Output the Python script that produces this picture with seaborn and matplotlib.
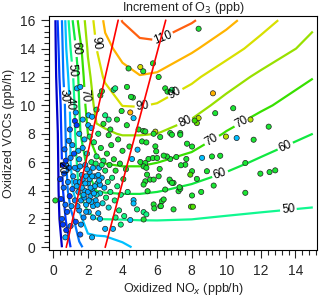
import numpy as np
import matplotlib
matplotlib.use("Agg")
import matplotlib.pyplot as plt
import seaborn as sns
import pandas as pd
from matplotlib.colors import LinearSegmentedColormap, Normalize
from matplotlib.ticker import MultipleLocator

# grid of O3 increment (ppb)
nox_grid = [0, 0.25, 0.5, 0.75, 1.0, 1.5, 2.0, 2.5, 3.0, 4.0, 5.0, 6.0, 8.0, 10.0, 12.0, 15.0]
voc_grid = [0, 2, 4, 6, 8, 10, 12, 14, 16]
o3_rows = [
    [0, 5, 10, 15, 20, 28.5, 32.5, 33, 33.5, 37.8, 42, 43, 44, 44, 44, 43.5],
    [0, 6.9, 14.2, 21, 26.7, 35.8, 48, 50, 50.2, 50.3, 50.4, 50.4, 50.1, 49.3, 48.8, 48.3],
    [0, 7.8, 17.8, 26.7, 36, 51, 56, 60.2, 60.8, 61.3, 61.3, 60.5, 58, 55.7, 54, 52.5],
    [0, 8.3, 20, 30, 40, 54, 62, 67.5, 70.5, 71.5, 71.5, 70.2, 66.8, 62.3, 58.9, 56.3],
    [0, 9.3, 22, 31.5, 40.5, 58.3, 70, 78.3, 79, 80.5, 80.5, 80, 75.8, 69.3, 65, 60],
    [0, 11.7, 23.5, 33, 41.5, 60, 74, 83, 84.5, 90.2, 90.5, 89.3, 83.8, 76.9, 71.4, 65.2],
    [0, 15, 27, 36, 44.8, 62, 77.5, 85.7, 91.5, 97, 99.5, 98.5, 92, 84.4, 78, 70.3],
    [0, 17.7, 28, 40, 50, 66, 81, 90, 97.5, 103, 107, 107.5, 101.5, 94, 86.3, 77],
    [0, 20, 30, 43, 56, 73, 84, 93.5, 102, 110.5, 115, 116, 111, 103, 94, 82],
]
levels = [10, 20, 30, 40, 50, 60, 70, 80, 90, 100, 110]
level_colors = ["#0000c8", "#0038ff", "#0078ff", "#00c0ff", "#10f890", "#10e840",
                "#38e000", "#98e000", "#d8e000", "#ffb400", "#ff6010"]

# ridge lines
ridge1_x = [0.75, 3.75]
ridge1_y = [0, 16]
ridge2_x = [3.0, 6.5]
ridge2_y = [0, 16]

# observed points: oxidized NOx, oxidized VOCs, O3 increment (colour)
pts_x = [8.4, 5.03, 5.2, 5.76, 6.09, 6.47, 6.6, 6.86, 9.23, 9.36, 8.4, 8.3, 4.6, 4.45, 4.64,
         4.93, 5.2, 5.9, 6.76, 7.34, 10.4, 11.4, 12.45, 8.17, 6.18, 6.86, 7.34, 7.73, 8.02, 9.98,
         10.6, 11.58, 8.6, 9.17, 9.65, 11.1, 11.97, 12.5, 12.83, 11.1, 9.27, 8.55, 8.02, 7.96, 8.07,
         6.95, 6.18, 6.28, 8.88, 8.02, 7.92, 7.63, 7.38, 7.11, 6.76, 6.57, 7.69, 8.3, 6.76, 6.95,
         7.24, 7.34, 6.47, 5.32, 5.8, 4.87, 4.55, 5.13, 5.38, 5.9, 5.95, 5.5, 5.76, 6.0, 6.38,
         6.15, 5.03, 5.32, 5.22, 5.38, 5.42, 5.32, 5.22, 5.45, 5.6, 5.8, 4.64, 4.64, 4.84, 5.22,
         5.38, 5.8, 5.84, 6.22, 6.72, 6.86, 6.09, 6.38, 7.3, 5.22, 4.45, 0.12,
         4.35, 3.49, 3.58, 4.26, 4.49, 2.72, 2.81, 1.37, 1.56, 2.04, 2.24, 3.0, 3.2, 3.68,
         1.25, 1.35, 0.96, 2.02, 2.2,
         0.45, 0.5, 0.55, 0.6, 0.62, 0.7, 0.72, 0.8, 0.85, 0.9, 0.95, 1.0, 1.05, 1.1, 1.15,
         1.2, 1.25, 1.3, 1.3, 0.65, 0.9, 1.1, 0.4, 0.55, 0.75, 1.0,
         1.4, 1.45, 1.5, 1.5, 1.55, 1.6, 1.65, 1.7, 1.75, 1.8, 1.85, 1.9, 1.95, 2.0, 2.05,
         2.1, 2.15, 2.2, 2.25, 2.3, 2.35, 2.4, 2.45, 2.5, 2.55, 2.6, 2.65, 2.7, 2.75, 2.8,
         2.85, 2.9, 2.95, 3.0, 1.35, 1.45, 1.6, 1.7, 1.8, 1.9, 2.0, 2.1, 2.2, 2.3, 2.4,
         2.5, 2.6, 2.7, 2.8, 1.55, 1.65, 1.75, 1.85, 1.95, 2.05, 2.15, 2.25, 2.35, 2.45, 2.55,
         2.65, 1.25, 1.4, 1.9, 2.3, 2.7, 1.5, 1.8, 2.1, 2.6, 1.3, 1.7, 2.5, 2.9, 3.3,
         3.05, 3.1, 3.15, 3.2, 3.25, 3.3, 3.35, 3.4, 3.5, 3.55, 3.6, 3.7, 3.75, 3.8, 3.85,
         3.9, 4.0, 4.05, 4.1, 4.2, 4.3, 4.4, 3.45, 3.0, 3.9, 3.6, 3.2, 4.25, 3.95,
         0.7, 1.56, 2.24]
pts_y = [15.4, 12.7, 12.4, 12.96, 12.0, 11.2, 10.97, 11.1, 10.85, 9.45, 9.1, 8.75, 10.55, 9.5, 9.1,
         8.3, 8.2, 8.15, 8.05, 8.05, 9.8, 9.0, 8.5, 8.93, 7.77, 7.93, 7.93, 7.3, 7.1, 7.8,
         7.7, 7.58, 6.3, 6.4, 6.45, 5.94, 5.19, 5.3, 5.42, 3.84, 4.35, 3.9, 3.65, 2.86, 2.86,
         2.67, 2.9, 3.25, 5.36, 5.36, 5.12, 5.82, 5.78, 6.36, 6.22, 6.4, 6.22, 4.82, 4.65, 4.54,
         3.95, 4.12, 4.07, 8.16, 8.0, 6.88, 6.22, 7.46, 7.39, 7.11, 6.76, 6.22, 6.29, 6.29, 6.46,
         5.52, 6.01, 5.94, 5.7, 5.6, 5.12, 4.65, 4.42, 3.95, 4.77, 4.77, 3.32, 3.09, 2.67, 2.48,
         2.32, 3.02, 2.74, 2.9, 4.77, 4.54, 5.0, 3.37, 4.23, 1.96, 1.92, 3.3,
         12.6, 11.1, 11.2, 11.3, 10.6, 10.7, 11.0, 11.2, 11.3, 9.3, 9.2, 9.3, 9.0, 9.0,
         8.9, 8.6, 8.3, 8.6, 8.4,
         3.4, 2.0, 1.6, 4.2, 5.2, 3.0, 6.1, 2.5, 4.6, 5.6, 3.6, 6.3, 2.9, 4.1, 5.0,
         6.6, 3.3, 1.8, 4.6, 6.9, 7.5, 7.2, 4.8, 5.8, 1.2, 1.5,
         5.5, 3.9, 2.6, 6.2, 4.6, 3.3, 5.1, 7.0, 2.1, 4.0, 5.8, 3.0, 6.6, 4.5, 2.5,
         5.3, 3.6, 6.0, 4.1, 2.9, 7.4, 5.0, 3.3, 6.4, 4.5, 2.4, 5.6, 3.8, 7.0, 4.9,
         3.1, 6.1, 4.2, 5.4, 4.3, 6.8, 1.6, 4.8, 3.5, 5.0, 3.9, 4.8, 3.2, 5.6, 4.3,
         3.7, 5.1, 4.4, 5.8, 5.7, 4.2, 3.7, 4.5, 5.5, 3.3, 4.2, 5.0, 3.8, 5.9, 3.0,
         4.7, 5.6, 2.9, 2.5, 2.1, 2.0, 8.0, 7.6, 7.8, 8.0, 9.5, 9.0, 9.7, 8.7, 8.3,
         3.5, 6.6, 4.6, 2.8, 5.8, 3.9, 7.2, 4.9, 6.2, 3.3, 5.4, 4.3, 7.6, 2.6, 5.9,
         3.7, 6.8, 4.8, 2.2, 5.5, 3.9, 7.1, 1.3, 1.3, 1.6, 2.1, 7.9, 8.6, 9.6,
         0.7, 0.9, 0.7]
pts_c = [62, 90, 62, 62, 62, 62, 62, 55, 100, 62, 85, 75, 62, 100, 40,
         62, 62, 85, 62, 62, 62, 85, 62, 70, 62, 62, 62, 62, 62, 85,
         40, 62, 40, 62, 62, 62, 62, 62, 62, 62, 62, 62, 62, 72, 72,
         62, 62, 62, 62, 62, 72, 62, 62, 62, 62, 62, 62, 62, 62, 62,
         62, 62, 62, 62, 62, 40, 40, 62, 62, 62, 62, 62, 62, 62, 62,
         62, 62, 62, 62, 62, 62, 62, 62, 62, 62, 62, 40, 40, 52, 52,
         52, 62, 62, 62, 62, 62, 62, 62, 62, 62, 40, 62,
         62, 52, 52, 62, 62, 62, 62, 37, 37, 37, 37, 52, 52, 62,
         20, 20, 28, 37, 37,
         20, 24, 20, 28, 24, 28, 20, 24, 32, 28, 20, 32, 35, 28, 35,
         24, 32, 24, 35, 28, 32, 35, 20, 15, 20, 28,
         36, 38, 34, 36, 38, 36, 38, 36, 33, 38, 36, 38, 44, 38, 38,
         36, 38, 55, 38, 38, 55, 36, 38, 55, 44, 38, 38, 44, 60, 38,
         44, 55, 38, 55, 38, 38, 34, 36, 36, 38, 36, 38, 38, 38, 38,
         44, 38, 38, 55, 36, 38, 38, 38, 38, 38, 38, 38, 38, 55, 38,
         38, 34, 34, 36, 38, 38, 38, 38, 55, 55, 34, 38, 55, 62, 62,
         52, 62, 52, 44, 62, 52, 62, 52, 62, 52, 62, 52, 62, 52, 62,
         52, 62, 62, 52, 62, 52, 62, 38, 38, 52, 52, 62, 62, 62,
         38, 28, 38]

sns.set_theme(style="ticks")
plt.rcParams["font.family"] = ["Liberation Sans", "DejaVu Sans"]

cmap = LinearSegmentedColormap.from_list("o3", level_colors)
norm = Normalize(vmin=10, vmax=110)

fig = plt.figure(figsize=(3.2, 3.01), dpi=100)
ax = fig.add_axes([0.153, 0.169, 0.838, 0.778])

X, Y = np.meshgrid(nox_grid, voc_grid)
Z = np.array(o3_rows)
cs = ax.contour(X, Y, Z, levels=levels, colors=level_colors, linewidths=1.6)

label_pos = [(0.48, 5.6), (0.67, 10.7), (0.96, 10.15), (1.16, 12.5), (1.35, 14.0),
             (1.73, 10.7), (2.5, 14.4), (6.4, 14.6), (5.2, 9.8), (7.1, 10.75),
             (7.55, 9.0), (9.07, 7.75), (10.85, 8.9), (9.6, 5.3), (13.4, 7.15), (13.6, 2.5)]
ax.clabel(cs, manual=label_pos, inline=True, fontsize=8.5, colors="black", fmt="%d",
          inline_spacing=2)

df = pd.DataFrame({"nox": pts_x, "voc": pts_y, "o3": pts_c})
sns.scatterplot(data=df, x="nox", y="voc", hue="o3", palette=cmap, hue_norm=norm,
                s=14, edgecolor="#202020", linewidth=0.5, legend=False, ax=ax, zorder=3)

ax.plot(ridge1_x, ridge1_y, color="red", lw=1.2, zorder=4)
ax.plot(ridge2_x, ridge2_y, color="red", lw=1.2, zorder=4)

ax.set_xlim(-0.25, 15.25)
ax.set_ylim(-0.2, 16.3)
ax.xaxis.set_major_locator(MultipleLocator(2))
ax.xaxis.set_minor_locator(MultipleLocator(0.4))
ax.yaxis.set_major_locator(MultipleLocator(2))
ax.yaxis.set_minor_locator(MultipleLocator(0.4))
ax.tick_params(which="major", length=6, width=0.8, labelsize=10, direction="out", pad=4)
ax.tick_params(which="minor", length=3.5, width=0.8, direction="out")
for sp in ax.spines.values():
    sp.set_linewidth(0.8)
    sp.set_color("black")

ax.set_xlabel("Oxidized NO$_x$ (ppb/h)", fontsize=9, labelpad=2)
ax.set_ylabel("Oxidized VOCs (ppb/h)", fontsize=9, labelpad=3)
ax.set_title("Increment of O$_3$ (ppb)", fontsize=9, pad=2)

fig.savefig("out.png", dpi=100)
